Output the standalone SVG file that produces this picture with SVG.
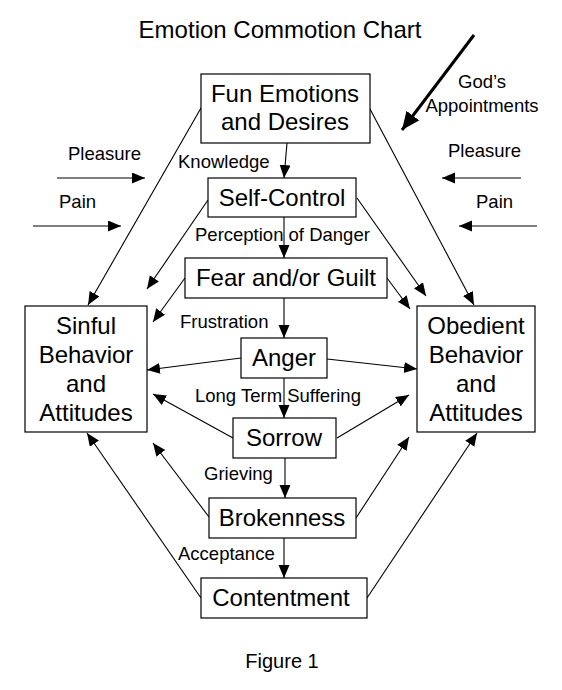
<svg xmlns="http://www.w3.org/2000/svg" width="562" height="690" viewBox="0 0 562 690">
<style>
text{font-family:"Liberation Sans",Arial,sans-serif;fill:#000}
.t{font-size:24px}
.n{font-size:24px;text-anchor:middle}
.l{font-size:18.5px}
.box{fill:#fff;stroke:#000;stroke-width:1.2}
.c line{stroke:#000;stroke-width:1.1;marker-end:url(#ah)}
</style>
<defs>
<marker id="ah" markerUnits="userSpaceOnUse" markerWidth="14" markerHeight="12" refX="13" refY="5.5" orient="auto">
<path d="M0,0 L13,5.5 L0,11 z" fill="#000"/>
</marker>
<marker id="ahb" markerUnits="userSpaceOnUse" markerWidth="20" markerHeight="18" refX="18" refY="8" orient="auto">
<path d="M0,0 L18,8 L0,16 z" fill="#000"/>
</marker>
</defs>
<rect width="562" height="690" fill="#fff"/>
<text class="t" x="280" y="38" text-anchor="middle">Emotion Commotion Chart</text>

<g class="c" id="connectors">
<line x1="287" y1="143" x2="284" y2="178"/>
<line x1="284" y1="217" x2="284" y2="258"/>
<line x1="284" y1="298" x2="284" y2="338"/>
<line x1="284" y1="378" x2="284" y2="418"/>
<line x1="285" y1="458" x2="285" y2="498"/>
<line x1="284" y1="538" x2="284" y2="578"/>
<line x1="201" y1="108" x2="88" y2="305"/>
<line x1="208" y1="200" x2="147" y2="289"/>
<line x1="185" y1="278" x2="153" y2="322"/>
<line x1="241" y1="358" x2="147" y2="370"/>
<line x1="233" y1="438" x2="153" y2="394"/>
<line x1="209" y1="517" x2="153" y2="443"/>
<line x1="201" y1="598" x2="87" y2="433"/>
<line x1="370" y1="109" x2="474" y2="305"/>
<line x1="357" y1="198" x2="426" y2="296"/>
<line x1="387" y1="278" x2="410" y2="309"/>
<line x1="327" y1="359" x2="417" y2="369"/>
<line x1="337" y1="438" x2="409" y2="395"/>
<line x1="356" y1="518" x2="409" y2="437"/>
<line x1="367" y1="598" x2="477" y2="433"/>
<line x1="57" y1="178" x2="145" y2="178"/>
<line x1="33" y1="226" x2="121" y2="226"/>
<line x1="521" y1="178" x2="442" y2="178"/>
<line x1="537" y1="226" x2="459" y2="226"/>
<line x1="474" y1="35" x2="402" y2="130" style="stroke-width:3;marker-end:url(#ahb)"/>
</g>

<g id="labels">
<text class="l" x="178" y="168">Knowledge</text>
<text class="l" x="195" y="241">Perception of Danger</text>
<text class="l" x="180" y="328">Frustration</text>
<text class="l" x="195" y="402">Long Term Suffering</text>
<text class="l" x="204" y="480">Grieving</text>
<text class="l" x="178" y="560">Acceptance</text>
<text class="l" x="68" y="160">Pleasure</text>
<text class="l" x="59" y="208">Pain</text>
<text class="l" x="448" y="157">Pleasure</text>
<text class="l" x="476" y="208">Pain</text>
<text class="l" x="482" y="88" text-anchor="middle">God’s</text>
<text class="l" x="482" y="112" text-anchor="middle">Appointments</text>
</g>

<g id="fun"><rect class="box" x="201" y="74" width="169" height="69"/>
<text class="n" x="285" y="102">Fun Emotions</text><text class="n" x="285" y="130">and Desires</text></g>
<g id="selfcontrol"><rect class="box" x="208" y="178" width="148" height="39"/>
<text class="n" x="282" y="206">Self-Control</text></g>
<g id="fear"><rect class="box" x="185" y="258" width="202" height="40"/>
<text class="n" x="286" y="286">Fear and/or Guilt</text></g>
<g id="anger"><rect class="box" x="241" y="338" width="86" height="40"/>
<text class="n" x="284" y="366">Anger</text></g>
<g id="sorrow"><rect class="box" x="233" y="418" width="103" height="40"/>
<text class="n" x="284" y="446">Sorrow</text></g>
<g id="brokenness"><rect class="box" x="209" y="498" width="147" height="40"/>
<text class="n" x="282" y="526">Brokenness</text></g>
<g id="contentment"><rect class="box" x="201" y="578" width="166" height="40"/>
<text class="n" x="281" y="606">Contentment</text></g>
<g id="sinful"><rect class="box" x="25" y="306" width="122" height="126"/>
<text class="n" x="86" y="334">Sinful</text><text class="n" x="86" y="363">Behavior</text><text class="n" x="86" y="392">and</text><text class="n" x="86" y="421">Attitudes</text></g>
<g id="obedient"><rect class="box" x="417" y="306" width="118" height="126"/>
<text class="n" x="476" y="334">Obedient</text><text class="n" x="476" y="363">Behavior</text><text class="n" x="476" y="392">and</text><text class="n" x="476" y="421">Attitudes</text></g>

<text x="282" y="668" font-size="20" text-anchor="middle">Figure 1</text>
</svg>
